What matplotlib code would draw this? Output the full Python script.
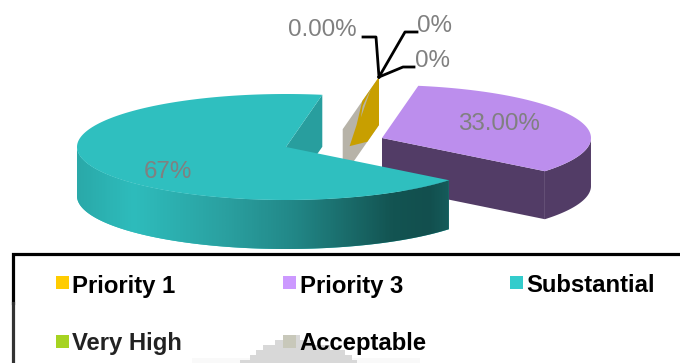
import matplotlib
matplotlib.use('Agg')
import matplotlib.pyplot as plt
import matplotlib.colors as mcolors
import numpy as np

plt.rcParams['font.family'] = ['Liberation Sans', 'DejaVu Sans']

categories = ['Priority 1', 'Priority 3', 'Substantial', 'Very High', 'Acceptable']
shares = [0, 33, 67, 0, 0]
value_labels = ['0.00%', '33.00%', '67%', '0%', '0%']
legend_colors = ['#ffcc00', '#cc99ff', '#33cccc', '#a6d321', '#c8c8ba']
text_colors = ['#000000', '#000000', '#000000', '#222222', '#000000']

RX, RY, DEPTH = 209, 53, 48
START = 80
CENTER_P3 = (382, 138)
CENTER_SUB = (286, 147)
CENTER_ZERO = (379, 77)


def rim(center, t):
    t = np.radians(t)
    return np.column_stack([center[0] + RX * np.cos(t), center[1] - RY * np.sin(t)])


fig = plt.figure(figsize=(6.8, 3.63), dpi=100)
ax = fig.add_axes([0, 0, 1, 1])
ax.set_xlim(0, 680)
ax.set_ylim(363, 0)
ax.axis('off')

# slice angles come from the shares, going clockwise
ends = START - np.cumsum(shares) * 3.6
t_p3 = np.linspace(ends[0], ends[1], 120)
t_sub = np.linspace(ends[1], ends[2], 240)

# zero slices: flat parallelograms seen edge on
zero_t = 260
zero_rim = rim(CENTER_ZERO, zero_t)[0]


def zero_point(u, v):
    return (CENTER_ZERO[0] + u * (zero_rim[0] - CENTER_ZERO[0]),
            CENTER_ZERO[1] + u * (zero_rim[1] - CENTER_ZERO[1]) + v * DEPTH)


ax.fill(*zip(*[zero_point(0, 0), zero_point(1, 0), zero_point(1, 1), zero_point(0, 1)]),
        color='#b7b3a8', lw=0, zorder=1)
ax.fill(*zip(*[zero_point(0, 0), zero_point(.46, 0), zero_point(.62, .33), zero_point(.81, .56),
               zero_point(.32, 1), zero_point(0, 1)]),
        color='#c89f00', lw=0, zorder=1.1)
ax.fill(*zip(*[zero_point(.22, 0), zero_point(.45, .12), zero_point(.5, .3)]),
        color='#b7b3a8', lw=0, zorder=1.2)

# Priority 3 slice
top = rim(CENTER_P3, t_p3)
tip = top[-1]
ax.fill([CENTER_P3[0], tip[0], tip[0], CENTER_P3[0]],
        [CENTER_P3[1], tip[1], tip[1] + DEPTH, CENTER_P3[1] + DEPTH], color='#523c66', lw=0, zorder=2)
arc = top[t_p3 <= 0]
ax.fill(np.r_[arc[:, 0], arc[::-1, 0]], np.r_[arc[:, 1], arc[::-1, 1] + DEPTH],
        color='#523c66', lw=0, zorder=2)
ax.fill(np.r_[CENTER_P3[0], top[:, 0]], np.r_[CENTER_P3[1], top[:, 1]], color='#bc8eed', lw=0, zorder=3)

# Substantial slice, inner cut face first
top2 = rim(CENTER_SUB, t_sub)
end = top2[-1]
ax.fill([CENTER_SUB[0], end[0], end[0], CENTER_SUB[0]],
        [CENTER_SUB[1], end[1], end[1] + DEPTH + 4, CENTER_SUB[1] + DEPTH + 4], color='#289e9e', lw=0, zorder=4)

# front side as a horizontal gradient clipped to the rim
front = np.linspace(180, ends[1] + 360, 200)
front_pts = rim(CENTER_SUB, front)
side = ax.fill(np.r_[front_pts[:, 0], front_pts[::-1, 0]],
               np.r_[front_pts[:, 1], front_pts[::-1, 1] + DEPTH + 1], color='#2fbfbf', lw=0, zorder=5)[0]
shade_x = [0, .15, .40, .58, .85, .95, 1]
shade_c = ['#2aa9a9', '#2ebcbc', '#2aa0a0', '#228888', '#135452', '#124f4e', '#155b5a']
cmap = mcolors.LinearSegmentedColormap.from_list('side', list(zip(shade_x, shade_c)))
grad = ax.imshow(np.linspace(0, 1, 400)[None, :], cmap=cmap, aspect='auto', zorder=5.1,
                 extent=[front_pts[:, 0].min(), front_pts[:, 0].max(), 260, 140])
grad.set_clip_path(side)
ax.set_xlim(0, 680)
ax.set_ylim(363, 0)
ax.fill(np.r_[CENTER_SUB[0], top2[:, 0]], np.r_[CENTER_SUB[1], top2[:, 1]], color='#2fbfbf', lw=0, zorder=6)

# leader lines of the zero labels
ax.plot([363, 376, CENTER_ZERO[0]], [37, 37, CENTER_ZERO[1]], color='black', lw=2, zorder=7)
ax.plot([417, 405, CENTER_ZERO[0]], [32, 32, CENTER_ZERO[1]], color='black', lw=2, zorder=7)
ax.plot([414, 403, CENTER_ZERO[0]], [67, 67, CENTER_ZERO[1]], color='black', lw=2, zorder=7)

label_pos = [(322, 29), (499, 123), (168, 171), (435, 25), (433, 60)]
for lab, (x, y) in zip(value_labels, label_pos):
    ax.text(x, y + 1, lab, color='#808080', fontsize=17.4, ha='center', va='center', zorder=8)

# faint stepped shape behind the legend
ax.fill([192, 420, 420, 192], [358, 358, 363, 363], color='#f9f9f9', lw=0, zorder=1)
step_y = [335, 340, 345, 350, 355, 360]
step_l = [283, 275, 263, 256, 250, 240]
step_r = [300, 310, 330, 345, 352, 357]
for y, l, r in zip(step_y, step_l, step_r):
    ax.fill([l, r, r, l], [y, y, y + 5.2, y + 5.2], color='#d8d8d8', lw=0, zorder=1)

# legend frame, open at the right and bottom
ax.plot([680, 12.5, 12.5], [254, 254, 303], color='black', lw=2.3, solid_joinstyle='miter', zorder=9)
ax.plot([12.5, 12.5], [303, 363], color='#333333', lw=2.3, zorder=9)

legend_x = [56, 283, 510, 56, 283]
legend_y = [276, 276, 276, 335, 335]
for name, col, tc, x, y in zip(categories, legend_colors, text_colors, legend_x, legend_y):
    ax.fill([x, x + 13, x + 13, x], [y, y, y + 13, y + 13], color=col, lw=0, zorder=10)
    ax.text(x + 16.5, y + 10 if y < 300 else y + 8.5, name, fontsize=17.2, fontweight='bold', color=tc,
            ha='left', va='center', zorder=10)

fig.savefig('out.png', dpi=100)
